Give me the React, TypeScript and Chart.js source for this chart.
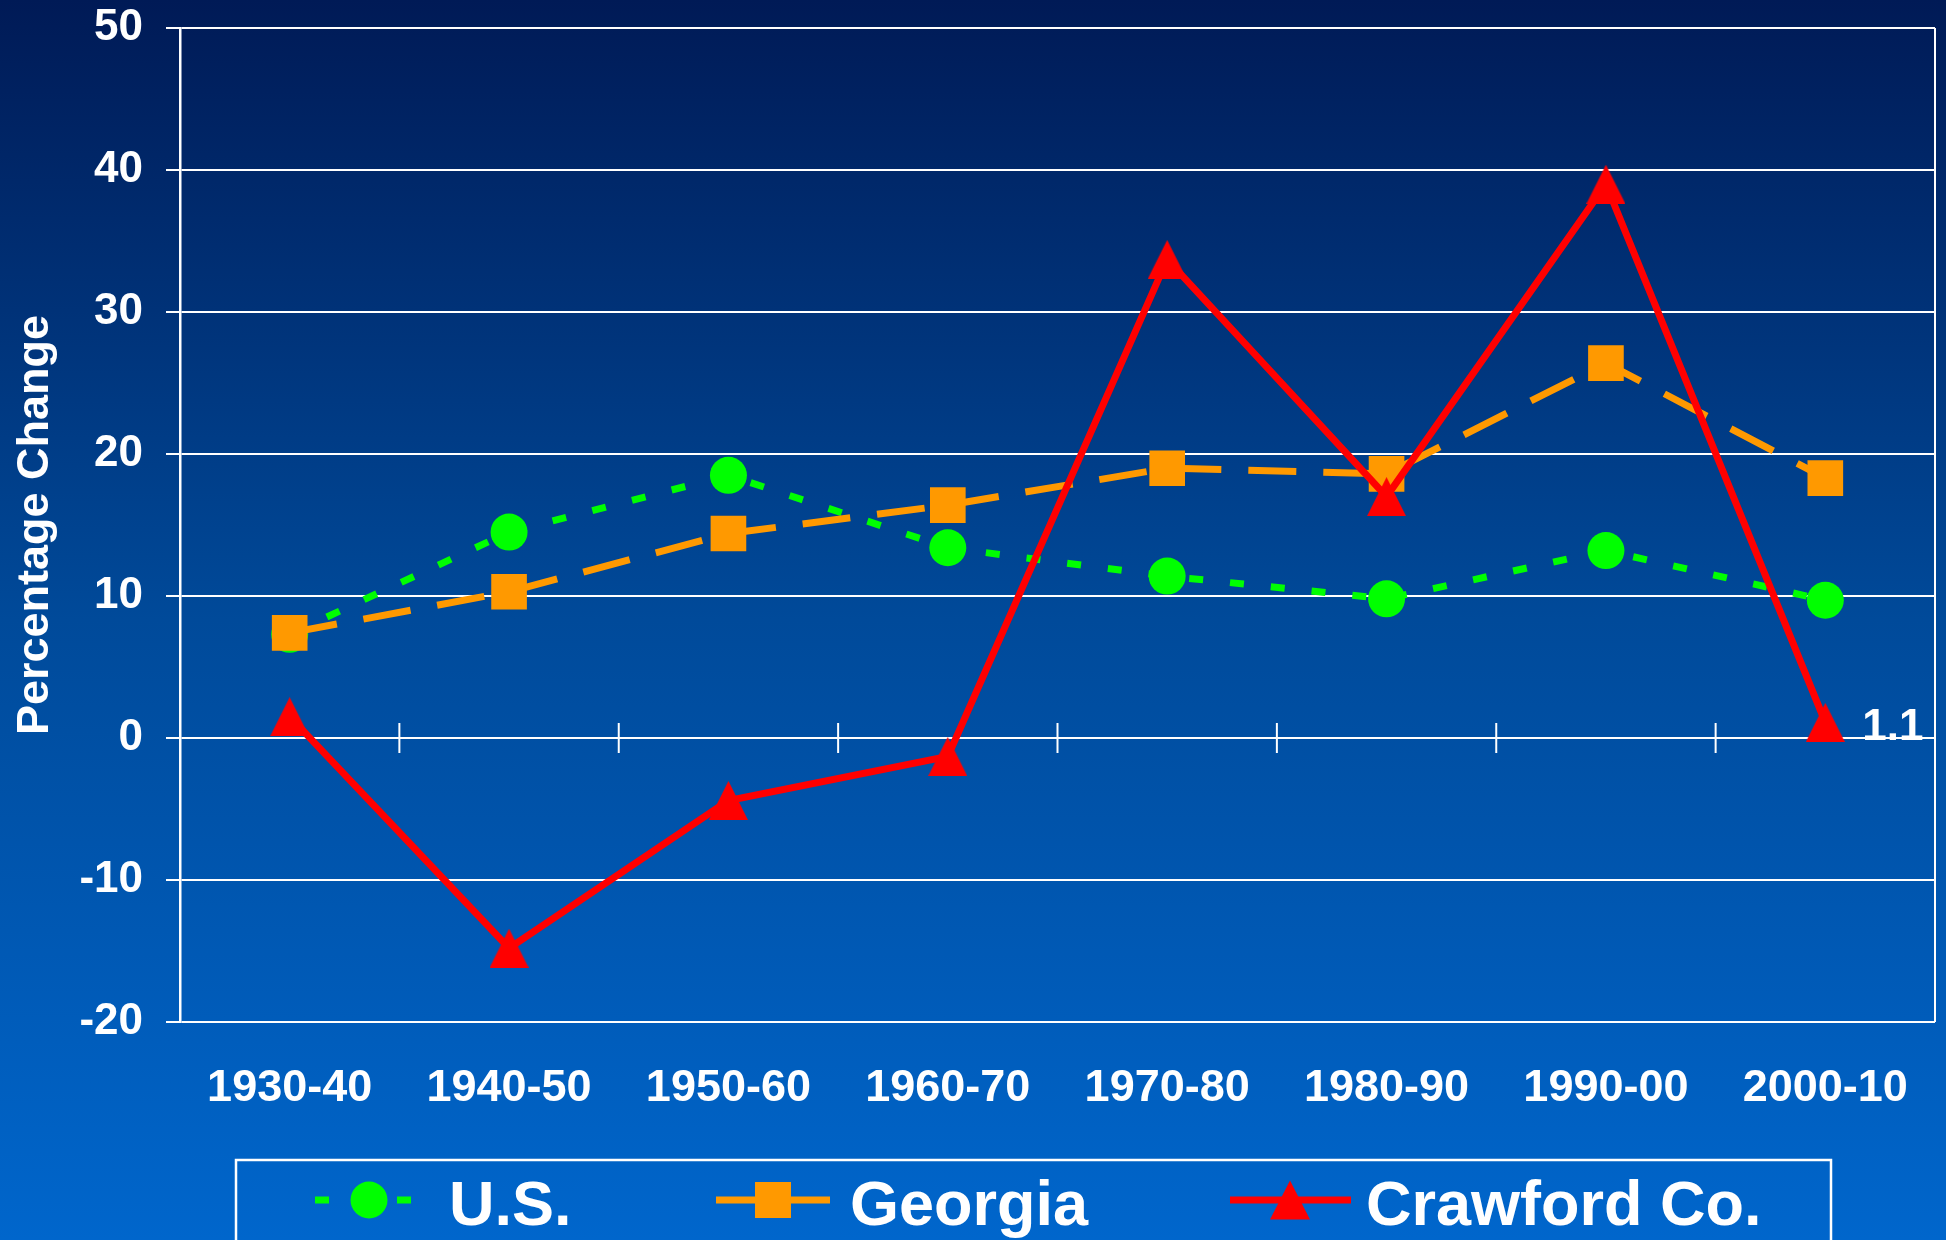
import React, { useEffect, useRef } from 'react';
import { Chart, registerables } from 'chart.js';

Chart.register(...registerables);

// ---- data ----
const categories = ['1930-40', '1940-50', '1950-60', '1960-70', '1970-80', '1980-90', '1990-00', '2000-10'];
const usValues = [7.3, 14.5, 18.5, 13.4, 11.4, 9.8, 13.2, 9.7];
const georgiaValues = [7.4, 10.3, 14.4, 16.4, 19.0, 18.6, 26.4, 18.3];
const crawfordValues = [1.5, -14.8, -4.4, -1.3, 33.7, 17.0, 39.0, 1.1];
const seriesNames = ['U.S.', 'Georgia', 'Crawford Co.'];
const yMin = -20;
const yMax = 50;
const yStep = 10;
const yTitle = 'Percentage Change';
const endLabel = '1.1';

// ---- styles ----
const FONT = '"Liberation Sans", Arial, Helvetica, sans-serif';
const GREEN = '#00ff00';
const ORANGE = '#ff9900';
const RED = '#ff0000';
const W = 1946;
const H = 1240;
const X_TICK_PAD = 40;
const X_TICK_SIZE = 45;

function makeTriangle(size: number, color: string): HTMLCanvasElement {
  const c = document.createElement('canvas');
  c.width = size;
  c.height = size;
  const ctx = c.getContext('2d')!;
  ctx.fillStyle = color;
  ctx.beginPath();
  ctx.moveTo(size / 2, 0);
  ctx.lineTo(size, size);
  ctx.lineTo(0, size);
  ctx.closePath();
  ctx.fill();
  return c;
}

const backgroundPlugin = {
  id: 'bgGradient',
  beforeDraw(chart: any) {
    const { ctx, width, height } = chart;
    const g = ctx.createLinearGradient(0, 0, 0, height);
    g.addColorStop(0, '#001a56');
    g.addColorStop(0.5, '#004a9a');
    g.addColorStop(1, '#0066cc');
    ctx.save();
    ctx.fillStyle = g;
    ctx.fillRect(0, 0, width, height);
    ctx.restore();
  },
};

const decorPlugin = {
  id: 'decor',
  beforeDatasetsDraw(chart: any) {
    const { ctx, chartArea, scales } = chart;
    const x = scales.x;
    const y = scales.y;
    ctx.save();
    ctx.strokeStyle = '#ffffff';
    ctx.lineWidth = 2;
    // right border
    ctx.beginPath();
    ctx.moveTo(chartArea.right, chartArea.top);
    ctx.lineTo(chartArea.right, chartArea.bottom);
    ctx.stroke();
    // tick marks on the zero line, at category boundaries
    const y0 = y.getPixelForValue(0);
    for (let i = 0; i < categories.length - 1; i++) {
      const xb = (x.getPixelForValue(i) + x.getPixelForValue(i + 1)) / 2;
      ctx.beginPath();
      ctx.moveTo(xb, y0 - 15);
      ctx.lineTo(xb, y0 + 15);
      ctx.stroke();
    }
    ctx.restore();
  },
  afterDraw(chart: any) {
    const { ctx, scales } = chart;
    const x = scales.x;
    const y = scales.y;
    ctx.save();
    // end label
    const last = crawfordValues.length - 1;
    ctx.fillStyle = '#ffffff';
    ctx.font = `bold 44px ${FONT}`;
    ctx.textAlign = 'left';
    ctx.textBaseline = 'alphabetic';
    ctx.fillText(endLabel, x.getPixelForValue(last) + 37, y.getPixelForValue(crawfordValues[last]) + 18);

    // legend
    ctx.strokeStyle = '#ffffff';
    ctx.lineWidth = 2.5;
    ctx.strokeRect(236, 1160, 1595, 140);
    const ly = 1200;
    const items = [
      { name: seriesNames[0], color: GREEN, dash: [14, 27], x0: 315, x1: 412, mx: 369, marker: 'circle', tx: 449 },
      { name: seriesNames[1], color: ORANGE, dash: [] as number[], x0: 716, x1: 830, mx: 773, marker: 'rect', tx: 850 },
      { name: seriesNames[2], color: RED, dash: [] as number[], x0: 1230, x1: 1351, mx: 1290, marker: 'tri', tx: 1366 },
    ];
    for (const it of items) {
      ctx.strokeStyle = it.color;
      ctx.lineWidth = 7;
      ctx.lineCap = 'butt';
      ctx.setLineDash(it.dash);
      ctx.beginPath();
      ctx.moveTo(it.x0, ly);
      ctx.lineTo(it.x1, ly);
      ctx.stroke();
      ctx.setLineDash([]);
      ctx.fillStyle = it.color;
      if (it.marker === 'circle') {
        ctx.beginPath();
        ctx.arc(it.mx, ly, 18.5, 0, Math.PI * 2);
        ctx.fill();
      } else if (it.marker === 'rect') {
        ctx.fillRect(it.mx - 18, ly - 18, 36, 36);
      } else {
        ctx.beginPath();
        ctx.moveTo(it.mx, ly - 19.5);
        ctx.lineTo(it.mx + 20, ly + 19.5);
        ctx.lineTo(it.mx - 20, ly + 19.5);
        ctx.closePath();
        ctx.fill();
      }
      ctx.fillStyle = '#ffffff';
      ctx.font = `bold 63px ${FONT}`;
      ctx.textAlign = 'left';
      ctx.textBaseline = 'alphabetic';
      ctx.fillText(it.name, it.tx, 1225);
    }
    ctx.restore();
  },
};

export default function App() {
  const ref = useRef<HTMLCanvasElement | null>(null);

  useEffect(() => {
    if (!ref.current) return;
    const tri = makeTriangle(39, RED);
    const chart = new Chart(ref.current, {
      type: 'line',
      data: {
        labels: categories,
        datasets: [
          {
            label: seriesNames[0],
            data: usValues,
            borderColor: GREEN,
            backgroundColor: GREEN,
            borderWidth: 7,
            borderDash: [14, 27],
            borderCapStyle: 'butt',
            pointStyle: 'circle',
            pointRadius: 18.5,
            pointBorderWidth: 0,
            pointBackgroundColor: GREEN,
            tension: 0,
            order: 3,
          },
          {
            label: seriesNames[1],
            data: georgiaValues,
            borderColor: ORANGE,
            backgroundColor: ORANGE,
            borderWidth: 7,
            borderDash: [48, 27],
            borderCapStyle: 'butt',
            pointStyle: 'rect',
            pointRadius: 25.2,
            pointBorderWidth: 0,
            pointBackgroundColor: ORANGE,
            tension: 0,
            order: 2,
          },
          {
            label: seriesNames[2],
            data: crawfordValues,
            borderColor: RED,
            backgroundColor: RED,
            borderWidth: 7,
            borderCapStyle: 'butt',
            pointStyle: tri,
            pointRadius: 19,
            pointBorderWidth: 0,
            pointBackgroundColor: RED,
            tension: 0,
            order: 1,
          },
        ],
      },
      options: {
        responsive: false,
        animation: false,
        events: [],
        layout: { autoPadding: false, padding: { left: 0, top: 28, right: 11, bottom: 124 } },
        plugins: {
          legend: { display: false },
          tooltip: { enabled: false },
          title: { display: false },
        },
        scales: {
          x: {
            type: 'category',
            offset: true,
            afterFit: (scale: any) => {
              scale.paddingLeft = 0;
              scale.paddingRight = 0;
              scale.paddingTop = 0;
              scale.paddingBottom = 0;
              scale.height = X_TICK_PAD + X_TICK_SIZE * 1.2;
            },
            grid: { display: false, drawTicks: false },
            border: { display: false },
            ticks: {
              color: '#ffffff',
              font: { family: FONT, size: X_TICK_SIZE, weight: 'bold' },
              padding: X_TICK_PAD,
              maxRotation: 0,
              autoSkip: false,
            },
          },
          y: {
            min: yMin,
            max: yMax,
            afterFit: (scale: any) => {
              scale.width = 180;
              scale.paddingTop = 0;
              scale.paddingBottom = 0;
              scale.paddingLeft = 0;
              scale.paddingRight = 0;
            },
            grid: {
              color: '#ffffff',
              lineWidth: 2,
              tickLength: 14,
              drawTicks: true,
            },
            border: { display: true, color: '#ffffff', width: 2.5 },
            ticks: {
              stepSize: yStep,
              color: '#ffffff',
              font: { family: FONT, size: 44, weight: 'bold' },
              padding: 23,
            },
            title: {
              display: true,
              text: yTitle,
              color: '#ffffff',
              font: { family: FONT, size: 45, weight: 'bold' },
              padding: { top: 9, bottom: 0 },
            },
          },
        },
      },
      plugins: [backgroundPlugin, decorPlugin],
    } as any);
    return () => chart.destroy();
  }, []);

  return (
    <canvas
      ref={ref}
      width={W}
      height={H}
      style={{ position: 'fixed', left: 0, top: 0, width: W, height: H, display: 'block' }}
    />
  );
}
